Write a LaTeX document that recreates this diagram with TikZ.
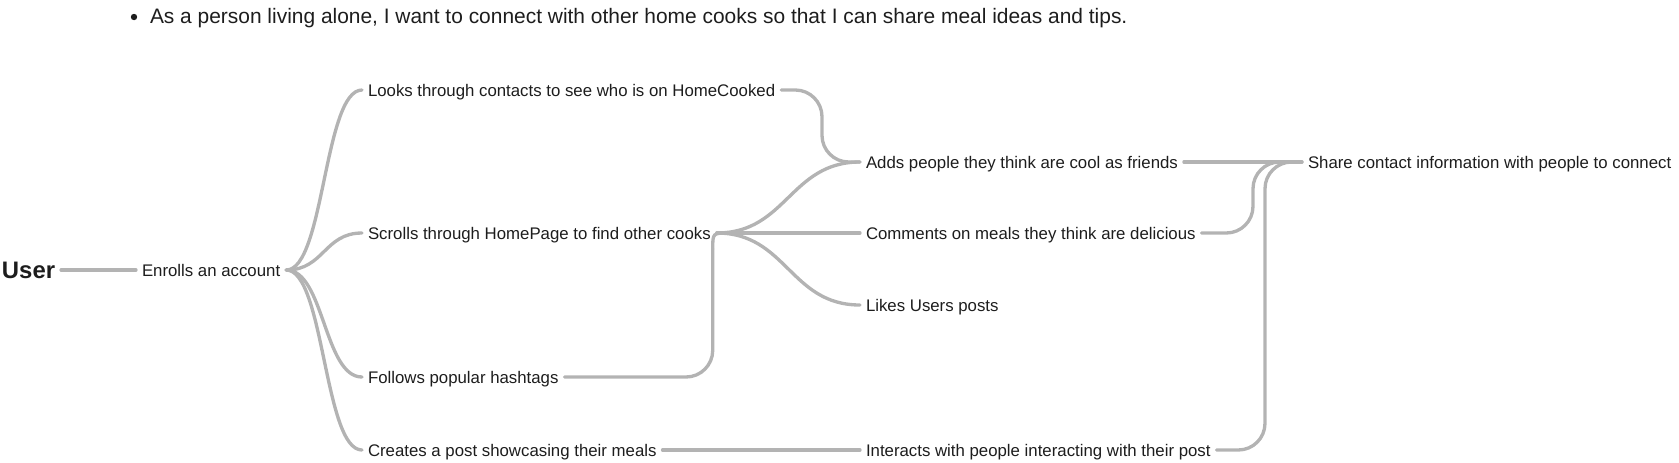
\documentclass[tikz,border=0pt]{standalone}
\usepackage{fontspec}
\setmainfont{Liberation Sans}
\usetikzlibrary{calc}

\definecolor{linkgray}{HTML}{B3B3B3}
\definecolor{inkgray}{HTML}{1D1D1D}

\begin{document}
\begin{tikzpicture}[line cap=round,line join=round,x=0.75pt,y=-0.75pt,
  item/.style={anchor=west,inner sep=0pt,outer xsep=4.5pt,text height=9pt,text depth=0pt,
    font=\fontsize{12.6}{15}\selectfont,text=inkgray},
  link/.style={draw=linkgray,line width=2.5pt}]
\useasboundingbox (0.,0.) rectangle (1679.,462.);
\clip (0.,0.) rectangle (1679.,462.);

% story
\fill[inkgray] (134.,17.) circle (2.4pt);
\draw (144.,16.) node[item,text height=11.2pt,font=\fontsize{15.7}{19}\selectfont] (story) {As a person living alone, I want to connect with other home cooks so that I can share meal ideas and tips.};

\draw (-4.,270.) node[item,text height=12.9pt,font=\fontsize{17.9}{21}\selectfont\bfseries] (user) {User};
\draw (136.,270.) node[item] (enroll) {Enrolls an account};

\draw (362.,90.) node[item] (looks) {Looks through contacts to see who is on HomeCooked};
\draw (362.,233.) node[item] (scrolls) {Scrolls through HomePage to find other cooks};
\draw (362.,377.) node[item] (follows) {Follows popular hashtags};
\draw (362.,450.) node[item] (creates) {Creates a post showcasing their meals};

\draw (860.,162.) node[item] (adds) {Adds people they think are cool as friends};
\draw (860.,233.) node[item] (comments) {Comments on meals they think are delicious};
\draw (860.,305.) node[item] (likes) {Likes Users posts};
\draw (860.,450.) node[item] (interacts) {Interacts with people interacting with their post};

\draw (1302.,162.) node[item] (share) {Share contact information with people to connect};

\coordinate (lk) at ($(adds.west)+(-38.,0.)$);
\coordinate (fw) at ($(scrolls.east)+(-4.,0.)$);
\coordinate (cm) at ($(share.west)+(-49.,0.)$);
\coordinate (it) at ($(share.west)+(-37.,0.)$);

\draw [link] (user.east)-- (enroll.west);
\foreach \c in {looks,scrolls,follows,creates}
  \draw [link] (enroll.east) .. controls +(38.,0.) and +(-38.,0.) .. (\c.west);

\foreach \c in {adds,likes}
  \draw [link] (scrolls.east) .. controls +(70.,0.) and +(-70.,0.) .. (\c.west);
\draw [link] (scrolls.east)-- (comments.west);
\draw [link,rounded corners=20] (looks.east) -| (lk) -- (adds.west);
\draw [link,rounded corners=20] (follows.east) -| ($(fw)+(0.,16.)$);
\draw [link] ($(fw)+(0.,16.)$) .. controls (fw) .. ($(scrolls.east)+(12.,0.)$);
\draw [link] (creates.east)-- (interacts.west);

\draw [link] (adds.east)-- (share.west);
\draw [link,rounded corners=20] (comments.east) -| (cm) -- (share.west);
\draw [link,rounded corners=20] (interacts.east) -| (it) -- (share.west);
\end{tikzpicture}
\end{document}
